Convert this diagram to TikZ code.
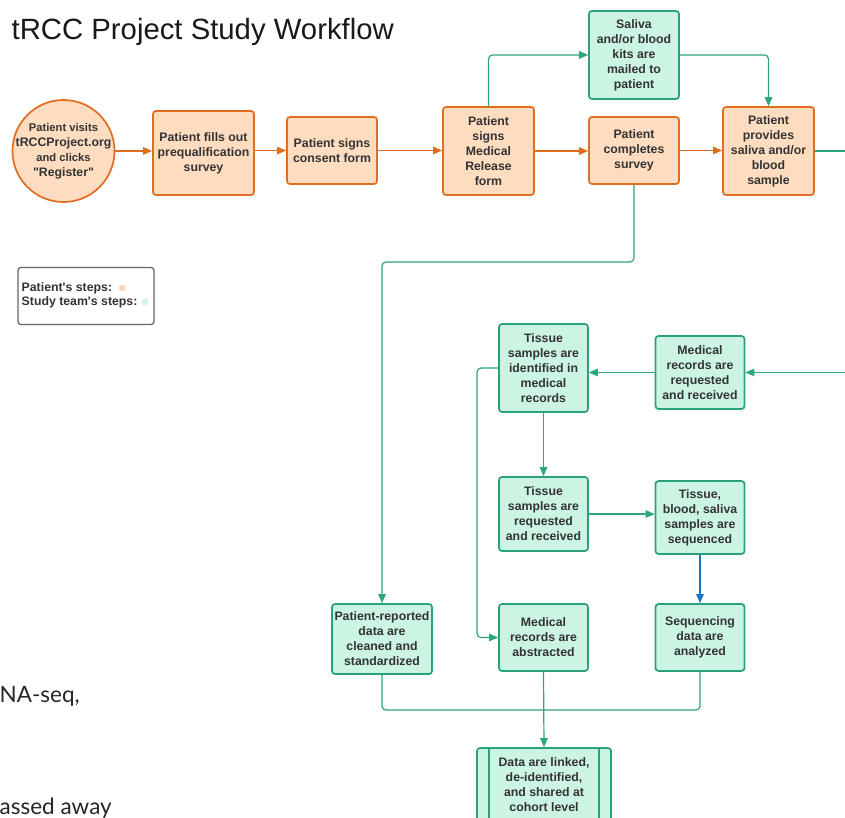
\documentclass[tikz,border=0pt]{standalone}
\usepackage{fontspec}
\setmainfont{Liberation Sans}
\newfontfamily\mainsans{Liberation Sans}
\newfontfamily\fraglat{Lato}
\usetikzlibrary{arrows.meta}
\definecolor{pfill}{HTML}{FDDCBF}
\definecolor{pdraw}{HTML}{DF6D22}
\definecolor{gfill}{HTML}{CCF4E3}
\definecolor{gdraw}{HTML}{29A27B}
\definecolor{gline}{HTML}{2DA57F}
\definecolor{bline}{HTML}{1B78C6}
\definecolor{txt}{HTML}{333333}
\definecolor{legcol}{HTML}{666666}
\definecolor{pdot}{HTML}{FCD6B6}
\definecolor{gdot}{HTML}{D2F6E9}
\newcommand\mynodefont{\mainsans\fontsize{12.3}{15}\selectfont\bfseries}
\begin{document}
\begin{tikzpicture}[x=1pt,y=-1pt,
  pbox/.style={draw=pdraw, fill=pfill, line width=1.7pt, rounded corners=3pt, inner sep=0pt, align=center, font=\mynodefont, text=txt},
  gbox/.style={draw=gdraw, fill=gfill, line width=1.7pt, rounded corners=3pt, inner sep=0pt, align=center, font=\mynodefont, text=txt},
  pedge/.style={draw=pdraw, line width=1.2pt, -{Triangle[length=9pt,width=7.5pt]}},
  gedge/.style={draw=gline, line width=1.2pt, rounded corners=4pt, -{Triangle[length=9pt,width=7.5pt]}},
  gplain/.style={draw=gline, line width=1.2pt, rounded corners=4pt},
  bedge/.style={draw=bline, line width=1.2pt, -{Triangle[length=9pt,width=7.5pt]}},
  fragtext/.style={anchor=base west, inner sep=0pt, font=\fraglat\fontsize{22.5}{26}\selectfont, text=black!85},
  legtext/.style={anchor=west, inner sep=0pt, font=\mainsans\fontsize{12.3}{14}\selectfont\bfseries, text=txt}
]
\useasboundingbox (0,0) rectangle (845,818);
\fill[white] (0,0) rectangle (845,818);
\clip (0,0) rectangle (845,818);

% title
\node[anchor=base west, inner sep=0pt, font=\mainsans\fontsize{29.3}{34}\selectfont, text=black!90] (title) at (11.5,39.5) {tRCC Project Study Workflow};

% fragments at left
\node[fragtext] (fr1) at (-0.5,702) {NA-seq,};
\node[fragtext] (fr2) at (-0.5,814) {assed away};

% top row
\node[pbox, circle, inner sep=-10pt, minimum size=102pt] (c1) at (63.5,151) {{\fontsize{11.2}{15}\selectfont Patient visits}\\tRCCProject.org\\{\fontsize{11.2}{15}\selectfont and clicks}\\"Register"};
\node[pbox, minimum width=101pt, minimum height=84pt] (b2) at (203.5,153) {Patient fills out\\prequalification\\survey};
\node[pbox, minimum width=90pt, minimum height=67pt] (b3) at (332,150.5) {Patient signs\\consent form};
\node[pbox, minimum width=91pt, minimum height=88pt] (b4) at (488.5,151) {Patient\\signs\\Medical\\Release\\form};
\node[pbox, minimum width=90pt, minimum height=67pt] (b5) at (634,150.5) {Patient\\completes\\survey};
\node[gbox, minimum width=90pt, minimum height=88pt] (b6) at (634,55) {Saliva\\and/or blood\\kits are\\mailed to\\patient};
\node[pbox, minimum width=91pt, minimum height=88pt] (b7) at (768.5,151) {Patient\\provides\\saliva and/or\\blood\\sample};

% legend
\node[draw=legcol, line width=1.3pt, rounded corners=3pt, minimum width=136pt, minimum height=57pt, inner sep=0pt] (leg) at (86,296) {};
\node[legtext] (l1) at (21.5,288) {Patient's steps:};
\node[legtext] (l2) at (21.5,302) {Study team's steps:};
\node[circle, fill=pdot, minimum size=7pt, inner sep=0pt] (d1) at (122,288) {};
\node[circle, fill=gdot, minimum size=7pt, inner sep=0pt] (d2) at (145,302) {};

% lower section
\node[gbox, minimum width=89pt, minimum height=88pt] (ti) at (543.5,368) {Tissue\\samples are\\identified in\\medical\\records};
\node[gbox, minimum width=89pt, minimum height=73pt] (mr) at (700,372.5) {Medical\\records are\\requested\\and received};
\node[gbox, minimum width=89pt, minimum height=74pt] (tr) at (543.5,514) {Tissue\\samples are\\requested\\and received};
\node[gbox, minimum width=89pt, minimum height=73pt] (sq) at (700,517.5) {Tissue,\\blood, saliva\\samples are\\sequenced};
\node[gbox, minimum width=100pt, minimum height=70pt] (pr) at (382,639) {Patient-reported\\data are\\cleaned and\\standardized};
\node[gbox, minimum width=89pt, minimum height=67pt] (ab) at (543.5,637.5) {Medical\\records are\\abstracted};
\node[gbox, minimum width=89pt, minimum height=67pt] (sa) at (700,637.5) {Sequencing\\data are\\analyzed};
\node[gbox, minimum width=134pt, minimum height=74pt] (dl) at (544,785) {Data are linked,\\de-identified,\\and shared at\\cohort level};
\draw[draw=gdraw, line width=1.7pt] ([xshift=13pt]dl.north west) -- ([xshift=13pt]dl.south west);
\draw[draw=gdraw, line width=1.7pt] ([xshift=-13pt]dl.north east) -- ([xshift=-13pt]dl.south east);

% helper coordinates
\coordinate (yA) at (0,262);
\coordinate (xL) at (477,0);
\coordinate (mg) at (544,710);
\coordinate (rout) at (846,151);
\coordinate (rin) at (846,372.5);

% top connectors
\draw[pedge] (c1.east) -- (b2.west |- c1.east);
\draw[pedge] (b2.east |- b3.west) -- (b3.west);
\draw[pedge] (b3.east) -- (b4.west |- b3.east);
\draw[pedge] (b4.east) -- (b5.west |- b4.east);
\draw[pedge] (b5.east) -- (b7.west |- b5.east);
\draw[gedge] (b4.north) |- (b6.west);
\draw[gedge] (b6.east) -| (b7.north);
\draw[gplain] (b7.east) -- (rout);
\draw[gedge] (b5.south) -- (b5.south |- yA) -- (pr.north |- yA) -- (pr.north);

% lower connectors
\draw[gedge] (rin) -- (mr.east);
\draw[gedge] (mr.west) -- (ti.east |- mr.west);
\draw[gedge] (ti.south) -- (tr.north);
\draw[gedge] (tr.east) -- (sq.west |- tr.east);
\draw[bedge] (sq.south) -- (sa.north);
\draw[gedge] (ti.west) -- (xL |- ti.west) -- (xL |- ab.west) -- (ab.west);
\draw[gplain] (pr.south) |- (mg);
\draw[gplain] (sa.south) |- (mg);
\draw[gedge] (ab.south) -- (dl.north);
\end{tikzpicture}
\end{document}
